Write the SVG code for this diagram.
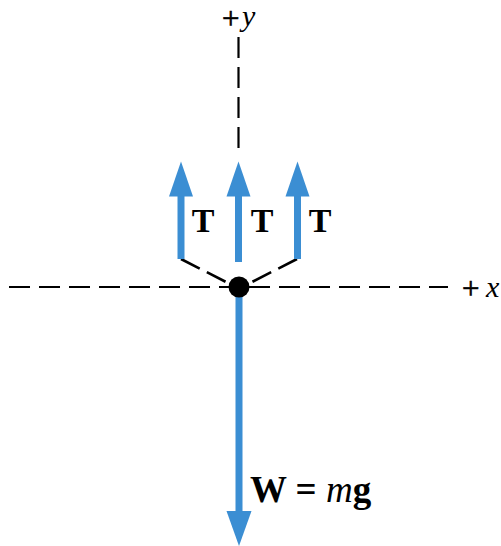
<svg xmlns="http://www.w3.org/2000/svg" width="501" height="546" viewBox="0 0 501 546">
  <style>
    .axis { stroke: #000; stroke-width: 2.2; stroke-dasharray: 21 9; fill: none; }
    .strut { stroke: #000; stroke-width: 2.6; stroke-dasharray: 21 8; fill: none; }
    .shaft { stroke: #3b8ed3; stroke-width: 7; fill: none; }
    .head { fill: #3b8ed3; }
    .bold { font-family: "Liberation Serif", "Times New Roman", serif; font-weight: bold; fill: #000; }
    .lbl { font-family: "Liberation Serif", "Times New Roman", serif; fill: #000; }
    .plus { stroke: #000; stroke-width: 0.6; }
  </style>
  <defs>
    <path id="headUp" d="M0,0 L12,35 L-12,35 Z"/>
  </defs>
  <rect width="501" height="546" fill="#fff"/>

  <g id="axes">
    <line class="axis" x1="9" y1="287" x2="448" y2="287"/>
    <line class="axis" x1="238.5" y1="37" x2="238.5" y2="153"/>
  </g>

  <g id="connectors">
    <line class="strut" x1="181" y1="259" x2="230" y2="284"/>
    <line class="strut" x1="297" y1="259" x2="248" y2="284"/>
    <line class="shaft" x1="181" y1="192" x2="181" y2="259"/>
    <use href="#headUp" class="head" transform="translate(181,161.5)"/>
    <line class="shaft" x1="238.5" y1="192" x2="238.5" y2="262"/>
    <use href="#headUp" class="head" transform="translate(238.5,161.5)"/>
    <line class="shaft" x1="297.5" y1="192" x2="297.5" y2="259"/>
    <use href="#headUp" class="head" transform="translate(297.5,161.5)"/>
    <line class="shaft" x1="239" y1="290" x2="239" y2="516"/>
    <path class="head" d="M239,546 L226.5,511 L251.5,511 Z"/>
  </g>

  <g id="body">
    <circle cx="239" cy="287" r="10.5" fill="#000"/>
  </g>

  <g id="labels">
    <text class="lbl" x="222" y="29" font-size="31"><tspan class="plus">+</tspan><tspan x="242" y="26" font-style="italic" font-size="30">y</tspan></text>
    <text class="lbl" x="462" y="299" font-size="31"><tspan class="plus">+</tspan><tspan x="486" y="297" font-style="italic" font-size="30">x</tspan></text>
    <text class="bold" x="203" y="232" font-size="34" text-anchor="middle">T</text>
    <text class="bold" x="262" y="232" font-size="34" text-anchor="middle">T</text>
    <text class="bold" x="320" y="232" font-size="34" text-anchor="middle">T</text>
    <text class="bold" x="250" y="502" font-size="37">W = <tspan font-style="italic" font-weight="normal">m</tspan>g</text>
  </g>
</svg>
